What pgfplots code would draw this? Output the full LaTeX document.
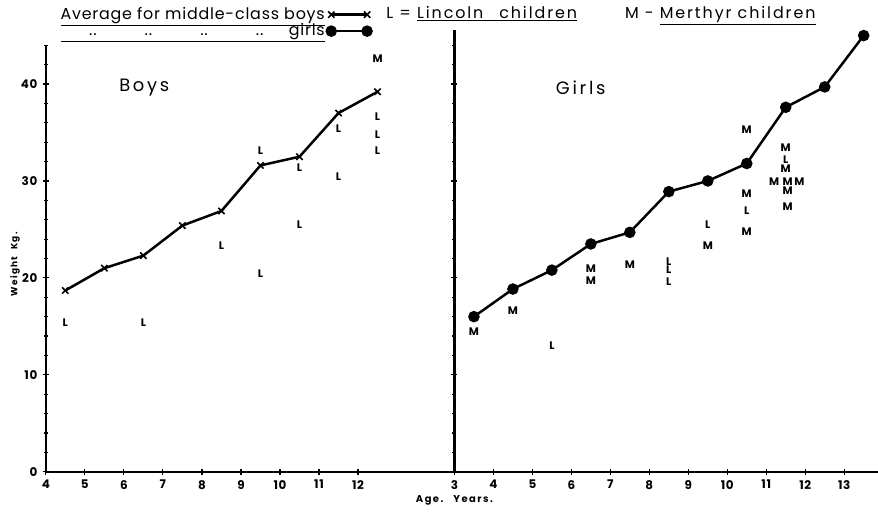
\documentclass[border=0pt]{standalone}
\usepackage{fontspec}
\setmainfont{Poppins}
\newfontfamily\hdr[LetterSpace=12]{Poppins}
\newfontfamily\leg[LetterSpace=5]{Poppins}
\newfontfamily\lbl[LetterSpace=15]{Poppins}
\usepackage{pgfplots}
\pgfplotsset{compat=1.18}
\newlength\legw
\begin{document}
\leg\fontsize{16}{18}\selectfont
\settowidth\legw{Average for middle-class boys}
\begin{tikzpicture}[x=1pt,y=1pt]
\useasboundingbox (0,0) rectangle (878,516);
\pgfplotsset{
  panel/.style={
    anchor=south west, clip=false,
    axis lines=left, axis line style={line width=2.5pt,-},
    y=9.75pt, ymin=0,
    ytick={0,10,20,30,40}, minor ytick={2,4,...,46},
    tick align=center, major tick length=6pt, minor tick length=4pt,
    tick style={line width=1.2pt,black},
    ticklabel style={font=\fontsize{12}{14}\selectfont\bfseries},
    /pgf/number format/assume math mode=true,
  },
  avg/.style={line width=2.5pt, black},
  lett/.style={only marks, mark=text, text mark={#1}, text mark as node=true,
    text mark style={font=\fontsize{11}{12}\selectfont\bfseries, inner sep=0pt}},
}

% boys
\begin{axis}[panel, at={(41pt,41.5pt)}, x=39.25pt, xmin=4, xmax=14.47, ymax=44.05,
  xtick={4,...,12},
  legend plot pos=right, legend cell align=right,
  legend style={at={(0.805,1.095)}, anchor=north east, draw=none, fill=none,
    font=\leg\fontsize{16}{18}\selectfont, nodes={inner ysep=1pt, inner xsep=2pt}},
  legend image code/.code={\draw[#1] plot coordinates {(0pt,0pt)(36pt,0pt)};},
]
\addplot[avg, mark=x, mark size=4.5pt, mark options={line width=1.6pt}] coordinates {
  (4.5,18.7) (5.5,21.0) (6.5,22.3) (7.5,25.4) (8.5,26.9)
  (9.5,31.6) (10.5,32.5) (11.5,37.0) (12.5,39.2)
};
\addlegendentry{\underline{Average for middle-class boys}}
\addlegendimage{avg, mark=*, mark size=4.5pt}
\addlegendentry{\underline{\makebox[\legw][r]{\hspace*{1.8em}..\hfill..\hfill..\hfill..\hspace{1.6em}girls}}}
\addplot[lett=L, forget plot] coordinates {
  (4.5,15.4) (6.5,15.4) (8.5,23.3) (9.5,33.1) (9.5,20.4)
  (10.5,31.4) (10.5,25.5) (11.5,35.4) (11.5,30.4)
  (12.5,36.6) (12.5,34.8) (12.5,33.1)
};
\addplot[lett=M, forget plot] coordinates {(12.5,42.6)};
\end{axis}

% girls
\begin{axis}[panel, at={(452pt,41.5pt)}, x=39.2pt, xmin=3, xmax=13.87, ymax=45.6,
  xtick={3,...,13}, yticklabels={}]
\addplot[avg, mark=*, mark size=4.5pt] coordinates {
  (3.5,16.0) (4.5,18.85) (5.5,20.8) (6.5,23.5) (7.5,24.7) (8.5,28.9)
  (9.5,30.0) (10.5,31.8) (11.5,37.6) (12.5,39.7) (13.5,45.0)
};
\addplot[lett=M] coordinates {
  (3.5,14.5) (4.5,16.6) (6.5,21.0) (6.5,19.7) (7.5,21.4) (9.5,23.3)
  (10.5,35.3) (10.5,28.7) (10.5,24.8)
  (11.5,33.4) (11.5,31.3) (11.2,29.9) (11.55,29.9) (11.85,29.9)
  (11.55,29.0) (11.55,27.3)
};
\addplot[lett=L] coordinates {
  (5.5,13.0) (8.5,21.7) (8.5,20.9) (8.5,19.6) (9.5,25.5) (10.5,26.9) (11.5,32.2)
};
\end{axis}

\node[font=\lbl\fontsize{18}{20}\selectfont] at (140,428) {Boys};
\node[font=\lbl\fontsize{18}{20}\selectfont] at (579,428) {Girls};
\node[rotate=90, font=\lbl\fontsize{9}{10}\selectfont\bfseries] at (10,250) {Weight\ \ Kg.};
\node[anchor=base, font=\lbl\fontsize{10}{11}\selectfont\bfseries] at (452,11) {Age.\quad Years.};
\node[anchor=base west, font=\hdr\fontsize{16}{18}\selectfont] at (378,497) {L = \underline{Lincoln\quad children}};
\node[anchor=base west, font=\hdr\fontsize{16}{18}\selectfont] at (618,497) {M - \underline{Merthyr children}};
\end{tikzpicture}
\end{document}
